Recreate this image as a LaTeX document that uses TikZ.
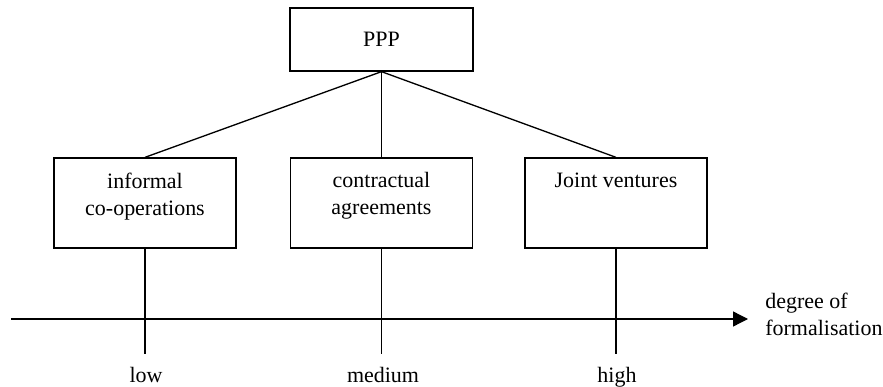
\documentclass[tikz,border=0pt]{standalone}
\usepackage{fontspec}
\setmainfont{Liberation Serif}
\usetikzlibrary{arrows.meta, positioning, calc}

\begin{document}
\begin{tikzpicture}[
  font=\fontsize{12.5}{15.4}\selectfont,
  topbox/.style={
    draw,
    line width=0.75pt,
    minimum width=3.66cm,
    minimum height=1.26cm,
    inner sep=0pt
  },
  kindbox/.style={
    draw,
    line width=0.75pt,
    minimum width=3.64cm,
    minimum height=1.8cm,
    inner sep=0pt
  },
  boxtext/.style={
    anchor=north,
    align=center,
    inner sep=0pt,
    yshift=-0.3cm
  },
  scale label/.style={
    anchor=base,
    inner sep=0pt
  },
  link/.style={
    line width=0.75pt
  },
  axis/.style={
    -{Triangle[length=0.3cm,width=0.3cm]},
    line width=0.75pt
  }
]

\useasboundingbox (0,0) rectangle (17.66,-7.74);

% hierarchy
\node[topbox] (ppp) at (7.63,-0.79) {PPP};

\node[kindbox] (inf) at (2.9,-4.06) {};
\node[kindbox] (con) at (7.63,-4.06) {};
\node[kindbox] (jv) at (12.32,-4.06) {};

\node[boxtext] (inftext) at (inf.north) {informal\\co-operations};
\node[boxtext] (context) at (con.north) {contractual\\agreements};
\node[boxtext] (jvtext) at (jv.north) {Joint ventures};

\draw[link] (ppp.south) -- (inf.north);
\draw[link] (ppp.south) -- (con.north);
\draw[link] (ppp.south) -- (jv.north);

% formalisation axis
\coordinate (axstart) at (0.22,-6.38);
\coordinate (axend) at (14.96,-6.38);
\coordinate (tickend) at (0,-7.08);

\draw[link] (inf.south) -- (inf.south |- tickend);
\draw[link] (con.south) -- (con.south |- tickend);
\draw[link] (jv.south) -- (jv.south |- tickend);

\draw[axis] (axstart) -- (axend);

\node[align=left, anchor=west, inner sep=0pt] (axlabel) at (15.3,-6.29)
  {degree of\\formalisation};

\node[scale label] (low) at (2.92,-7.64) {low};
\node[scale label] (medium) at (7.66,-7.64) {medium};
\node[scale label] (high) at (12.34,-7.64) {high};

\end{tikzpicture}
\end{document}
